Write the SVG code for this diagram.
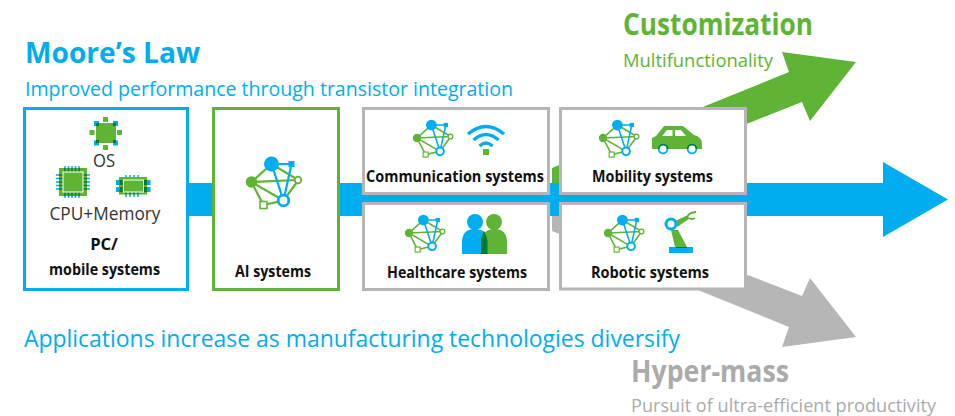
<svg xmlns="http://www.w3.org/2000/svg" width="955" height="416" viewBox="0 0 955 416">
<style>
text{font-family:"Open Sans","Noto Sans","Liberation Sans",sans-serif}
.box{fill:#fff;stroke-width:3}
.gray{stroke:#b5b6b5}
.lbl{font-size:16.5px;font-weight:700;fill:#111;text-anchor:middle}
.sub{font-size:18px;fill:#333;text-anchor:middle}
.g{fill:#5fb435}.b{fill:#00aeef}.d{fill:#007a33}
.gl{stroke:#5fb435;fill:none}.bl{stroke:#00aeef;fill:none}
.dl{stroke:#007a33;fill:none}
</style>
<defs>
<g id="net">
<g class="gl" stroke-width="2.200">
<path d="M0,0L20,-18L47,-2L32,18.500L12,23L0,0L32,18.500M0,0L47,-2"/>
</g>
<g class="bl" stroke-width="2.200"><path d="M20,-18L40,-18L32,18.500L20,-18"/></g>
<circle class="g" r="5.800"/>
<circle class="b" cx="20" cy="-18" r="7.500"/>
<rect class="b" x="37" y="-21" width="6" height="6"/>
<circle cx="46.500" cy="-2" r="3.300" fill="#fff" stroke="#5fb435" stroke-width="1.800"/>
<circle cx="32" cy="18.500" r="5.300" fill="#fff" stroke="#00aeef" stroke-width="2.800"/>
<rect x="8.500" y="19.500" width="7" height="7" fill="#fff" stroke="#5fb435" stroke-width="1.600"/>
</g>
</defs>

<g id="connectors">
<polygon id="arrow-green" class="g" points="552,168 789,72 782,52 856,62 810,121 802,102 552,201"/>
<polygon id="arrow-gray" fill="#b5b6b5" points="552,199 802,296 810,278 856,337 782,347 789,327 552,231"/>
<polygon id="arrow-blue" class="b" points="186,183 883,183 883,162 948,199.500 883,237 883,216 186,216"/>
</g>

<text x="25" y="63" font-size="29" font-weight="700" class="b" textLength="175" lengthAdjust="spacingAndGlyphs">Moore’s Law</text>
<text x="25" y="95.500" font-size="19.500" class="b" textLength="488" lengthAdjust="spacingAndGlyphs">Improved performance through transistor integration</text>
<text x="623" y="35" font-size="30" font-weight="700" class="g" textLength="190" lengthAdjust="spacingAndGlyphs">Customization</text>
<text x="623" y="67" font-size="19" class="g" textLength="150" lengthAdjust="spacingAndGlyphs">Multifunctionality</text>
<text x="24" y="347" font-size="23" class="b" textLength="656" lengthAdjust="spacingAndGlyphs">Applications increase as manufacturing technologies diversify</text>
<text x="631" y="382" font-size="30" font-weight="700" fill="#aaabaa" textLength="158" lengthAdjust="spacingAndGlyphs">Hyper-mass</text>
<text x="631" y="412" font-size="18.500" fill="#aaabaa" textLength="305" lengthAdjust="spacingAndGlyphs">Pursuit of ultra-efficient productivity</text>

<g id="node-pc">
<rect class="box" x="24.500" y="108.500" width="163" height="181" stroke="#00aeef"/>
<g id="chip-os">
<rect class="g" x="89.500" y="130" width="5" height="5"/><rect class="g" x="117" y="130" width="5" height="5"/>
<rect class="g" x="103" y="117" width="5" height="5"/><rect class="g" x="103" y="145" width="5" height="5"/>
<rect class="b" x="94" y="121" width="5" height="5"/><rect class="b" x="113" y="121" width="5" height="5"/><rect class="b" x="94" y="140.500" width="5" height="5"/><rect class="b" x="113" y="140.500" width="5" height="5"/>
<rect class="g" x="96" y="123" width="20" height="20"/>
<rect class="d" x="96" y="123" width="3" height="3"/><rect class="d" x="113" y="123" width="3" height="3"/><rect class="d" x="96" y="140" width="3" height="3"/><rect class="d" x="113" y="140" width="3" height="3"/>
</g>
<text class="sub" x="104" y="167" textLength="22" lengthAdjust="spacingAndGlyphs">OS</text>
<g id="chip-cpu">
<path class="bl" stroke-width="1.500" d="M65,166V198M68.500,166V198M72,166V198M75.500,166V198M79,166V198M56,175H90M56,178.500H90M56,182H90M56,185.500H90M56,189H90"/>
<rect class="g" x="59" y="168" width="28" height="28"/>
<path class="dl" stroke-width="1.500" d="M65,168V172M68.500,168V172M72,168V172M75.500,168V172M79,168V172M65,192V196M68.500,192V196M72,192V196M75.500,192V196M79,192V196M59,175H63M59,178.500H63M59,182H63M59,185.500H63M59,189H63M83,175H87M83,178.500H87M83,182H87M83,185.500H87M83,189H87"/>
<rect class="g" x="63" y="172" width="20" height="20" stroke="#fff" stroke-width="1"/>
</g>
<g id="chip-memory">
<path class="bl" stroke-width="1.500" d="M126,175V197M130,175V197M134,175V197M138,175V197"/>
<path class="b" d="M116,180h4v5h-4zM116,187h4v5h-4zM146,180h4.500v5h-4.500zM146,187h4.500v5h-4.500z"/>
<rect class="g" x="119" y="177" width="28" height="17.500"/>
<path class="dl" stroke-width="1.500" d="M126,191.500V194.500M130,191.500V194.500M134,191.500V194.500M138,191.500V194.500"/>
<rect class="g" x="123.500" y="180" width="20" height="12" stroke="#fff" stroke-width="1"/>
<path class="d" d="M119.500,180h3v5h-3zM119.500,187h3v5h-3zM144,180h3v5h-3zM144,187h3v5h-3z"/>
</g>
<text class="sub" x="105" y="220" textLength="111" lengthAdjust="spacingAndGlyphs">CPU+Memory</text>
<text class="lbl" x="104" y="250">PC/</text>
<text class="lbl" x="104.500" y="275" textLength="111" lengthAdjust="spacingAndGlyphs">mobile systems</text>
</g>

<g id="node-ai">
<rect class="box" x="213.500" y="108.500" width="125" height="181" stroke="#5fb435"/>
<use href="#net" transform="translate(251.500 182)"/>
<text class="lbl" x="273" y="277" textLength="76" lengthAdjust="spacingAndGlyphs">AI systems</text>
</g>

<g id="node-communication">
<rect class="box gray" x="363.500" y="108.500" width="185" height="85"/>
<use href="#net" transform="translate(417 138) scale(.72)"/>
<g id="icon-wifi">
<path class="bl" stroke-width="3.500" d="M468,134Q486,119 504,134M473.500,140Q486,129 498.500,140M479.500,146Q486,140 492.500,146"/>
<rect class="g" x="483" y="149" width="6" height="6"/>
</g>
<text class="lbl" x="455" y="182" textLength="178" lengthAdjust="spacingAndGlyphs">Communication systems</text>
</g>

<g id="node-healthcare">
<rect class="box gray" x="363.500" y="203.500" width="185" height="86"/>
<use href="#net" transform="translate(409 233) scale(.72)"/>
<g id="icon-people">
<circle class="b" cx="475" cy="222" r="8"/>
<path class="b" d="M462,254V243Q462,229 474,229Q485,229 487,236V254Z"/>
<circle class="g" cx="494" cy="222" r="8"/>
<path class="g" d="M482,254V240Q483,229 495,229Q507,229 507,243V254Z"/>
<path class="d" d="M481,254V240Q482,235 484,231Q487,236 487.500,241V254Z"/>
</g>
<text class="lbl" x="457" y="278" textLength="140" lengthAdjust="spacingAndGlyphs">Healthcare systems</text>
</g>

<g id="node-mobility">
<rect class="box gray" x="560.500" y="108.500" width="185" height="85"/>
<use href="#net" transform="translate(603 138) scale(.72)"/>
<g id="icon-car">
<path class="g" d="M652,149V138L656,136L664,126H683L694,135Q702,137 702,144V149Z"/>
<path fill="#fff" d="M662,136L667,130H672.500V136ZM675,130H681L686,136H675Z"/>
<circle cx="663" cy="149" r="4.300" fill="#fff" stroke="#00aeef" stroke-width="1.800"/>
<circle cx="692" cy="149" r="4.300" fill="#fff" stroke="#00aeef" stroke-width="1.800"/>
<path class="d" d="M658,149a5.200,5.200 0 0 1 10.400,0h-1.500a3.700,3.700 0 0 0 -7.400,0ZM686.800,149a5.200,5.200 0 0 1 10.400,0h-1.500a3.700,3.700 0 0 0 -7.400,0Z"/>
</g>
<text class="lbl" x="652.500" y="182" textLength="121" lengthAdjust="spacingAndGlyphs">Mobility systems</text>
</g>

<g id="node-robotic">
<rect class="box gray" x="560.500" y="203.500" width="185" height="85.500"/>
<use href="#net" transform="translate(608 233) scale(.72)"/>
<g id="icon-robot">
<rect class="b" x="669" y="247" width="24" height="6"/>
<polygon class="g" points="671,230 678,230 687,247 675,247"/>
<path class="d" d="M676,247h11v1h-11z"/>
<polygon class="g" points="675,221 688,215 689,219 677,227"/>
<path class="gl" stroke-width="1.800" d="M688,216Q689,212.500 696,212M688.500,218Q692,220 695,218"/>
<circle cx="671" cy="224" r="5" fill="#fff" stroke="#00aeef" stroke-width="3"/>
</g>
<text class="lbl" x="650" y="278" textLength="118" lengthAdjust="spacingAndGlyphs">Robotic systems</text>
</g>
</svg>
